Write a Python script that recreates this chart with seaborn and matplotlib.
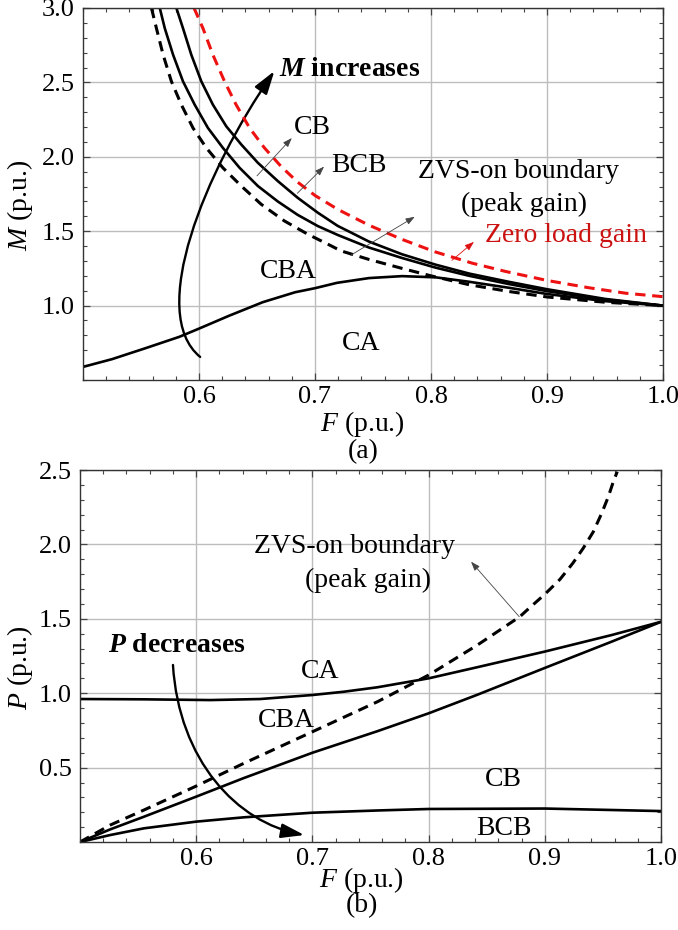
import matplotlib
matplotlib.use("Agg")
import matplotlib.pyplot as plt
import seaborn as sns
from matplotlib.ticker import MultipleLocator
from matplotlib.path import Path
from matplotlib.patches import FancyArrowPatch

# ---------------- data: panel (a)  M vs F ----------------
F_zero = [0.5957, 0.6034, 0.612, 0.622, 0.632, 0.6436, 0.6564, 0.6708, 0.685, 0.700, 0.720, 0.7466, 0.775, 0.804, 0.8356, 0.864, 0.900, 0.936, 0.968, 1.0]
M_zero = [3.0, 2.864, 2.685, 2.507, 2.35, 2.194, 2.06, 1.935, 1.83, 1.74, 1.645, 1.54, 1.445, 1.36, 1.285, 1.23, 1.169, 1.12, 1.083, 1.06]

F_bcb = [0.5805, 0.5862, 0.5934, 0.602, 0.612, 0.6235, 0.6364, 0.6507, 0.6679, 0.685, 0.7023, 0.7195, 0.7466, 0.775, 0.804, 0.833, 0.867, 0.900, 0.950, 1.0]
M_bcb = [3.0, 2.864, 2.685, 2.507, 2.35, 2.205, 2.083, 1.96, 1.837, 1.725, 1.625, 1.536, 1.43, 1.345, 1.275, 1.215, 1.16, 1.11, 1.045, 1.0]

F_cb = [0.5662, 0.5705, 0.5777, 0.5862, 0.5963, 0.6077, 0.6206, 0.635, 0.6507, 0.6679, 0.685, 0.7023, 0.7195, 0.7466, 0.775, 0.804, 0.833, 0.867, 0.900, 0.950, 1.0]
M_cb = [3.0, 2.864, 2.685, 2.507, 2.35, 2.194, 2.06, 1.926, 1.804, 1.70, 1.61, 1.535, 1.475, 1.39, 1.32, 1.255, 1.20, 1.145, 1.097, 1.04, 1.0]

F_zvs = [0.559, 0.5633, 0.5691, 0.5762, 0.5848, 0.5948, 0.6063, 0.6206, 0.6364, 0.6536, 0.6736, 0.6937, 0.7138, 0.7223, 0.7466, 0.775, 0.800, 0.833, 0.867, 0.900, 0.951, 1.0]
M_zvs = [3.0, 2.864, 2.685, 2.507, 2.35, 2.194, 2.06, 1.926, 1.804, 1.681, 1.569, 1.48, 1.402, 1.368, 1.31, 1.25, 1.20, 1.14, 1.095, 1.058, 1.022, 1.0]

F_cba = [0.5, 0.525, 0.554, 0.583, 0.599, 0.626, 0.655, 0.683, 0.700, 0.719, 0.7466, 0.775, 0.804, 0.833, 0.867, 0.900, 0.950, 1.0]
M_cba = [0.588, 0.64, 0.714, 0.79, 0.842, 0.932, 1.023, 1.09, 1.117, 1.153, 1.185, 1.198, 1.19, 1.16, 1.12, 1.078, 1.03, 1.0]

# ---------------- data: panel (b)  P vs F ----------------
F_ca_p = [0.5, 0.555, 0.612, 0.655, 0.700, 0.727, 0.756, 0.800, 0.842, 0.900, 0.957, 1.0]
P_ca_p = [0.961, 0.959, 0.954, 0.961, 0.988, 1.01, 1.04, 1.10, 1.175, 1.28, 1.39, 1.48]

F_cba_p = [0.5, 0.526, 0.555, 0.600, 0.641, 0.700, 0.756, 0.800, 0.842, 0.900, 0.957, 1.0]
P_cba_p = [0.0, 0.085, 0.17, 0.305, 0.43, 0.60, 0.745, 0.865, 0.99, 1.17, 1.345, 1.48]

F_zvs_p = [0.5, 0.526, 0.555, 0.600, 0.641, 0.700, 0.756, 0.800, 0.842, 0.8784, 0.887, 0.900, 0.913, 0.924, 0.933, 0.9417, 0.9489, 0.9546, 0.9589, 0.9623]
P_zvs_p = [0.0, 0.114, 0.215, 0.376, 0.529, 0.741, 0.943, 1.122, 1.324, 1.514, 1.575, 1.665, 1.765, 1.873, 1.974, 2.085, 2.209, 2.32, 2.421, 2.489]

F_bcb_p = [0.5, 0.526, 0.555, 0.600, 0.641, 0.700, 0.756, 0.800, 0.900, 1.0]
P_bcb_p = [0.0, 0.047, 0.092, 0.137, 0.166, 0.197, 0.212, 0.222, 0.225, 0.208]

x_ticks = [0.6, 0.7, 0.8, 0.9, 1.0]
y_ticks_a = [1.0, 1.5, 2.0, 2.5, 3.0]
y_ticks_b = [0.5, 1.0, 1.5, 2.0, 2.5]

# ---------------- style ----------------
sns.set_theme(style="ticks")
plt.rcParams.update({
    "font.family": ["Liberation Serif", "DejaVu Serif"],
    "mathtext.fontset": "custom",
    "mathtext.rm": "Liberation Serif",
    "mathtext.it": "Liberation Serif:italic",
    "mathtext.bf": "Liberation Serif:italic:bold",
    "axes.edgecolor": "#333333",
    "axes.linewidth": 1.0,
    "text.color": "black",
    "axes.labelcolor": "black",
})

FS = 20
fig = plt.figure(figsize=(6.78, 9.30), dpi=100)
ax1 = fig.add_axes([0.1224, 0.5914, 0.8555, 0.4000])
ax2 = fig.add_axes([0.1180, 0.0946, 0.8570, 0.4000])

LW = 1.9
DLW = 2.2
DASH = (0, (3.4, 2.2))


def style_axes(ax, ylim, yticks):
    ax.set_xlim(0.5, 1.0)
    ax.set_ylim(*ylim)
    ax.set_xticks(x_ticks)
    ax.set_yticks(yticks)
    ax.xaxis.set_minor_locator(MultipleLocator(0.02))
    ax.yaxis.set_minor_locator(MultipleLocator(0.1))
    ax.tick_params(which="both", direction="in", top=True, right=True,
                   color="#444444", labelsize=19, labelcolor="black")
    ax.tick_params(which="major", length=5, width=0.9)
    ax.tick_params(which="minor", length=3, width=0.8)
    ax.tick_params(axis="y", pad=6)
    ax.tick_params(axis="x", pad=4)
    ax.grid(True, which="major", color="#bdbdbd", lw=1.0)
    ax.set_axisbelow(True)
    for s in ax.spines.values():
        s.set_visible(True)


# ---------------- panel (a) ----------------
sns.lineplot(x=F_zero, y=M_zero, ax=ax1, color="#ee1111", lw=DLW, linestyle=DASH)
sns.lineplot(x=F_bcb, y=M_bcb, ax=ax1, color="black", lw=LW)
sns.lineplot(x=F_cb, y=M_cb, ax=ax1, color="black", lw=LW)
sns.lineplot(x=F_zvs, y=M_zvs, ax=ax1, color="black", lw=DLW, linestyle=DASH)
sns.lineplot(x=F_cba, y=M_cba, ax=ax1, color="black", lw=LW)
style_axes(ax1, (0.5, 3.0), y_ticks_a)

ax1.set_xlabel("$F$ (p.u.)", fontsize=FS)
ax1.xaxis.label.set_va("center")
ax1.xaxis.set_label_coords(0.481, -0.118)
ax1.text(0.483, -0.192, "(a)", transform=ax1.transAxes, fontsize=FS,
         ha="center", va="center")
ax1.set_ylabel("$M$ (p.u.)", fontsize=FS)
ax1.yaxis.label.set_va("center")
ax1.yaxis.set_label_coords(-0.108, 0.47)

# curved arrow "M increases"
p = Path([(0.601, 0.655), (0.555, 0.95), (0.605, 1.9), (0.665, 2.576)],
         [Path.MOVETO, Path.CURVE4, Path.CURVE4, Path.CURVE4])
ax1.add_patch(FancyArrowPatch(path=p, arrowstyle="-|>,head_length=0.7,head_width=0.22",
                              mutation_scale=20, lw=1.7, color="black"))
ax1.text(0.669, 2.588, r"$\mathbf{M}$ increases", fontsize=FS, fontweight="bold",
         ha="left", va="center")

thin = dict(arrowstyle="-|>,head_length=0.55,head_width=0.2", mutation_scale=10,
            lw=0.6, color="#444444", shrinkA=0, shrinkB=0)
ax1.annotate("", xy=(0.680, 2.126), xytext=(0.650, 1.872), arrowprops=thin)
ax1.annotate("", xy=(0.7078, 1.934), xytext=(0.6848, 1.755), arrowprops=thin)
ax1.annotate("", xy=(0.786, 1.597), xytext=(0.7307, 1.338), arrowprops=thin)
red = dict(thin, color="#dd1111")
ax1.annotate("", xy=(0.837, 1.428), xytext=(0.818, 1.304), arrowprops=red)

ax1.text(0.6977, 2.194, "CB", fontsize=FS, ha="center", va="center")
ax1.text(0.738, 1.939, "BCB", fontsize=FS, ha="center", va="center")
ax1.text(0.875, 1.90, "ZVS-on boundary", fontsize=FS, ha="center", va="center")
ax1.text(0.880, 1.68, "(peak gain)", fontsize=FS, ha="center", va="center")
ax1.text(0.916, 1.473, "Zero load gain", fontsize=FS, ha="center", va="center",
         color="#cc1111")
ax1.text(0.677, 1.23, "CBA", fontsize=FS, ha="center", va="center")
ax1.text(0.740, 0.743, "CA", fontsize=FS, ha="center", va="center")

# ---------------- panel (b) ----------------
sns.lineplot(x=F_ca_p, y=P_ca_p, ax=ax2, color="black", lw=LW)
sns.lineplot(x=F_cba_p, y=P_cba_p, ax=ax2, color="black", lw=LW)
sns.lineplot(x=F_zvs_p, y=P_zvs_p, ax=ax2, color="black", lw=DLW, linestyle=DASH)
sns.lineplot(x=F_bcb_p, y=P_bcb_p, ax=ax2, color="black", lw=LW)
style_axes(ax2, (0.0, 2.5), y_ticks_b)

ax2.set_xlabel("$F$ (p.u.)", fontsize=FS)
ax2.xaxis.label.set_va("center")
ax2.xaxis.set_label_coords(0.485, -0.102)
ax2.text(0.485, -0.172, "(b)", transform=ax2.transAxes, fontsize=FS,
         ha="center", va="center")
ax2.set_ylabel("$P$ (p.u.)", fontsize=FS)
ax2.yaxis.label.set_va("center")
ax2.yaxis.set_label_coords(-0.103, 0.47)

p2 = Path([(0.580, 1.19), (0.585, 0.55), (0.635, 0.13), (0.693, 0.047)],
          [Path.MOVETO, Path.CURVE4, Path.CURVE4, Path.CURVE4])
ax2.add_patch(FancyArrowPatch(path=p2, arrowstyle="-|>,head_length=0.7,head_width=0.22",
                              mutation_scale=20, lw=1.7, color="black"))
ax2.text(0.524, 1.324, r"$\mathbf{P}$ decreases", fontsize=FS, fontweight="bold",
         ha="left", va="center")
ax2.annotate("", xy=(0.8365, 1.884), xytext=(0.878, 1.514), arrowprops=thin)

ax2.text(0.736, 1.985, "ZVS-on boundary", fontsize=FS, ha="center", va="center")
ax2.text(0.748, 1.76, "(peak gain)", fontsize=FS, ha="center", va="center")
ax2.text(0.7066, 1.145, "CA", fontsize=FS, ha="center", va="center")
ax2.text(0.678, 0.82, "CBA", fontsize=FS, ha="center", va="center")
ax2.text(0.8647, 0.417, "CB", fontsize=FS, ha="center", va="center")
ax2.text(0.8647, 0.092, "BCB", fontsize=FS, ha="center", va="center")

fig.savefig("out.png", dpi=100)
